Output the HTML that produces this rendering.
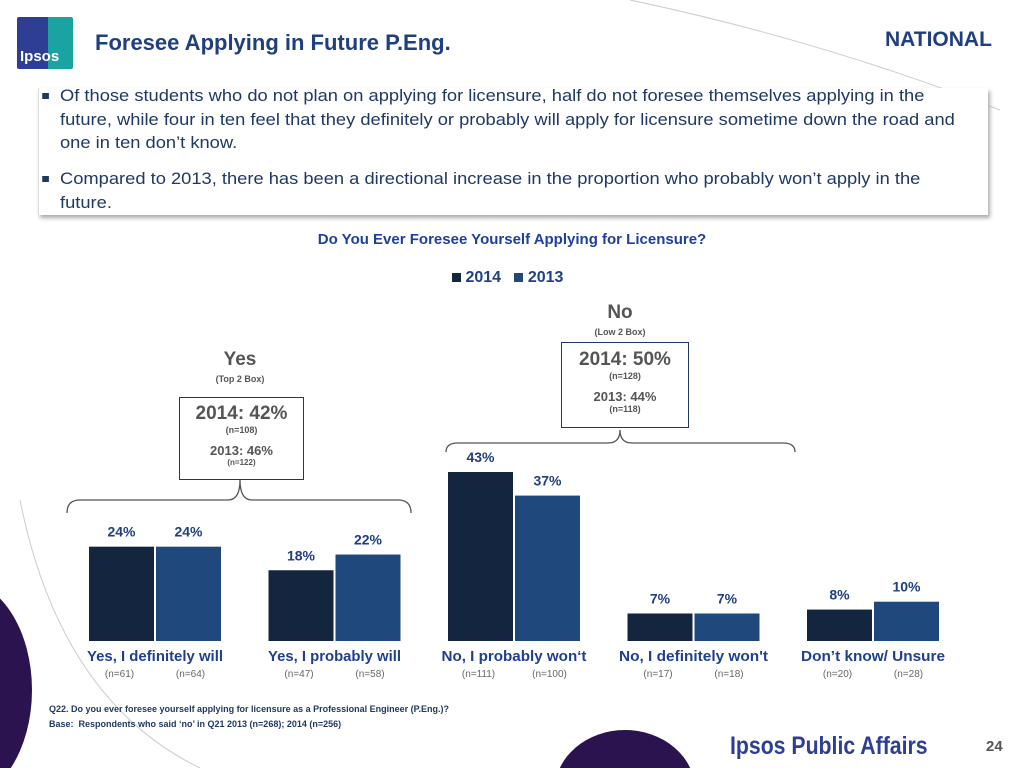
<!DOCTYPE html>
<html><head><meta charset="utf-8"><style>
html,body{margin:0;width:1024px;height:768px;overflow:hidden}
body{background:#fff;font-family:"Liberation Sans",sans-serif;position:relative}
.a{position:absolute}
.bul{position:absolute;left:60px;color:#1f3864;font-size:16.5px;line-height:23.5px;white-space:nowrap;transform:scaleX(1.11);transform-origin:left top}
.bul::before{content:"";position:absolute;left:-16px;top:8px;width:6px;height:6px;background:#1f3864}
.bx{position:absolute;border:1.5px solid #1f3864;background:#fff;text-align:center;color:#555}
</style></head><body>
<svg class="a" style="left:0;top:0" width="1024" height="768">
<path d="M630 0 Q820 40 1000 110" stroke="#ccc" fill="none"/>
<path d="M20 500 Q60 700 200 768" stroke="#ccc" fill="none"/>
<ellipse cx="-40" cy="690" rx="72" ry="110" fill="#2b1350"/>
<ellipse cx="625" cy="790" rx="70" ry="60" fill="#2b1350"/>
</svg>
<div class="a" style="left:17px;top:17px;width:56px;height:52px;background:linear-gradient(90deg,#2e3f93 55%,#1aa3a0 55%);border-radius:2px;color:#fff;font-weight:bold;font-size:15px"><span style="position:absolute;left:3px;bottom:4px">Ipsos</span></div>
<div class="a" style="left:95px;top:30px;font-size:22px;font-weight:bold;color:#1f3f7f">Foresee Applying in Future P.Eng.</div>
<div class="a" style="left:885px;top:28px;font-size:21px;font-weight:bold;color:#1f3f7f">NATIONAL</div>
<div class="a" style="left:38px;top:88px;width:949px;height:127px;background:#fff;box-shadow:2px 3px 4px #aaa;border-left:1px solid #ddd"></div>
<div class="bul" style="top:85px">Of those students who do not plan on applying for licensure, half do not foresee themselves applying in the<br>future, while four in ten feel that they definitely or probably will apply for licensure sometime down the road and<br>one in ten don’t know.</div>
<div class="bul" style="top:168px">Compared to 2013, there has been a directional increase in the proportion who probably won’t apply in the<br>future.</div>
<div class="a" style="left:0;width:1024px;top:231px;text-align:center;font-size:15px;font-weight:bold;color:#1f3fa0">Do You Ever Foresee Yourself Applying for Licensure?</div>
<div class="a" style="left:452px;top:269px;font-size:16px;font-weight:bold;color:#1f3f7f">
<span><span style="display:inline-block;width:9px;height:9px;background:#13253f"></span> 2014</span>&nbsp;&nbsp;
<span><span style="display:inline-block;width:9px;height:9px;background:#1f497d"></span> 2013</span></div>
<div class="a" style="left:180px;width:120px;top:349px;text-align:center;color:#555;font-weight:bold;font-size:19px">Yes<div style="font-size:9px;font-weight:bold;margin-top:3px">(Top 2 Box)</div></div>
<div class="bx" style="left:179px;top:397px;width:123px;height:81px"><div style="font-size:19px;font-weight:bold;margin-top:5px">2014: 42%</div><div style="font-size:9px;font-weight:bold">(n=108)</div><div style="font-size:13px;font-weight:bold;margin-top:8px">2013: 46%</div><div style="font-size:8px;font-weight:bold">(n=122)</div></div>
<div class="a" style="left:560px;width:120px;top:302px;text-align:center;color:#555;font-weight:bold;font-size:19px">No<div style="font-size:9px;font-weight:bold;margin-top:3px">(Low 2 Box)</div></div>
<div class="bx" style="left:561px;top:342px;width:126px;height:84px"><div style="font-size:19px;font-weight:bold;margin-top:6px">2014: 50%</div><div style="font-size:9px;font-weight:bold">(n=128)</div><div style="font-size:13px;font-weight:bold;margin-top:8px">2013: 44%</div><div style="font-size:9px;font-weight:bold">(n=118)</div></div>
<svg id="ch" class="a" style="left:0;top:0" width="1024" height="768">
<path d="M67 513 Q67 500 80 500 L228 500 Q240 500 240 480 Q240 500 252 500 L398 500 Q411 500 411 513" stroke="#555" fill="none" stroke-width="1.3"/>
<path d="M446 452 Q446 443 458 443 L608 443 Q620 443 620 430 Q620 443 632 443 L783 443 Q795 443 795 452" stroke="#555" fill="none" stroke-width="1.3"/>
</svg>
<div class="a" style="left:49px;top:702px;font-size:9px;font-weight:bold;color:#1f3864;line-height:15px">Q22. Do you ever foresee yourself applying for licensure as a Professional Engineer (P.Eng.)?<br>Base:&nbsp; Respondents who said ‘no’ in Q21 2013 (n=268); 2014 (n=256)</div>
<div class="a" style="left:730px;top:731px;font-size:25px;line-height:30px;font-weight:bold;color:#2e3f93;transform:scaleX(0.85);transform-origin:left">Ipsos Public Affairs</div>
<div class="a" style="left:986px;top:738px;font-size:15px;font-weight:bold;color:#555">24</div>
<script>
const categories=["Yes, I definitely will","Yes, I probably will","No, I probably won‘t","No, I definitely won't","Don’t know/ Unsure"];
const values2014=[24,18,43,7,8];
const values2013=[24,22,37,7,10];
const n2014=["(n=61)","(n=47)","(n=111)","(n=17)","(n=20)"];
const n2013=["(n=64)","(n=58)","(n=100)","(n=18)","(n=28)"];
const svg=document.getElementById('ch');const NS='http://www.w3.org/2000/svg';
const base=641,scale=3.93,bw=65;
const labelW=[136,133,145,149,144];
const x=i=>89+i*179.5;
const y=v=>base-v*scale;
function t(px,py,s,size,col,w,anchor){const e=document.createElementNS(NS,'text');e.setAttribute('x',px);e.setAttribute('y',py);e.setAttribute('font-size',size);e.setAttribute('fill',col);e.setAttribute('font-weight',w);e.setAttribute('text-anchor',anchor||'middle');e.setAttribute('font-family','Liberation Sans, sans-serif');e.textContent=s;svg.appendChild(e);return e;}
categories.forEach((c,i)=>{
 [[values2014[i],'#13253f',0,n2014[i]],[values2013[i],'#1f497d',1,n2013[i]]].forEach(([v,col,k,n])=>{
  const r=document.createElementNS(NS,'rect');const bx=x(i)+k*67;
  r.setAttribute('x',bx);r.setAttribute('y',y(v));r.setAttribute('width',bw);r.setAttribute('height',v*scale);r.setAttribute('fill',col);
  
  
  svg.appendChild(r);
  const lab=t(bx+bw/2,y(v)-10,v+'%',14,'#1f3f7f','bold');
  
  
  const nl=t(bx+bw/2-(k?-2:2),677,n,10,'#666','normal');
  
  
 });
 const cl=t(x(i)+66,661,c,14.5,'#1f3f8f','bold');
 cl.setAttribute('textLength',labelW[i]);
 cl.setAttribute('lengthAdjust','spacingAndGlyphs');
 
 
});
</script>
</body></html>
